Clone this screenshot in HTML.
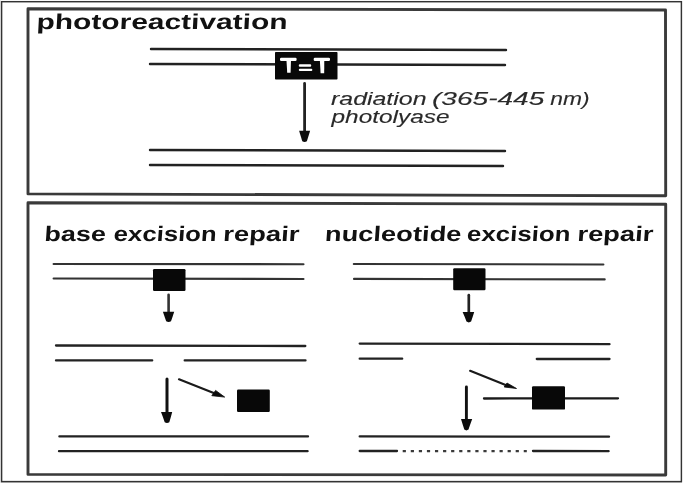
<!DOCTYPE html>
<html><head><meta charset="utf-8">
<style>
html,body{margin:0;padding:0;background:#fff;}
body{width:684px;height:483px;overflow:hidden;}
svg{display:block;filter:grayscale(1);}
.t{font-family:"Liberation Sans",sans-serif;}
</style></head>
<body>
<svg width="684" height="483" viewBox="0 0 684 483">
<rect x="0" y="0" width="684" height="483" fill="#fff"/>
<rect x="0" y="482" width="682" height="1" fill="#d6d6d6"/>
<rect x="0" y="0" width="1" height="483" fill="#ececec"/>
<rect x="1.6" y="1.7" width="679.8" height="479.9" fill="none" stroke="#333" stroke-width="1.45"/>
<path d="M28,8.7 L665.5,10 L665.7,195.8 L28,193.9 Z" fill="none" stroke="#3a3a3a" stroke-width="2.9" stroke-linejoin="round"/>
<path d="M28,202.8 L665.7,204.2 L665.7,475.0 L28,474.4 Z" fill="none" stroke="#3a3a3a" stroke-width="2.9" stroke-linejoin="round"/>
<g class="t" font-weight="bold" fill="#111">
<text transform="translate(36.2,28.8) skewX(-3)" font-size="21.5" textLength="251" lengthAdjust="spacingAndGlyphs">photoreactivation</text>
<text transform="translate(44,241.2) skewX(-4)" font-size="21" textLength="61.5" lengthAdjust="spacingAndGlyphs">base</text>
<text transform="translate(113.3,241.2) skewX(-4)" font-size="21" textLength="103" lengthAdjust="spacingAndGlyphs">excision</text>
<text transform="translate(222.8,241.2) skewX(-4)" font-size="21" textLength="76.2" lengthAdjust="spacingAndGlyphs">repair</text>
<text transform="translate(324.5,241.2) skewX(-4)" font-size="21" textLength="136.5" lengthAdjust="spacingAndGlyphs">nucleotide</text>
<text transform="translate(466.6,241.2) skewX(-4)" font-size="21" textLength="103.5" lengthAdjust="spacingAndGlyphs">excision</text>
<text transform="translate(577,241.2) skewX(-4)" font-size="21" textLength="76" lengthAdjust="spacingAndGlyphs">repair</text>
</g>
<line x1="151" y1="49" x2="506" y2="50" stroke="#222" stroke-width="2.4" stroke-linecap="round"/>
<line x1="150" y1="64" x2="505" y2="65" stroke="#222" stroke-width="2.4" stroke-linecap="round"/>
<line x1="150" y1="150" x2="505" y2="151" stroke="#222" stroke-width="2.4" stroke-linecap="round"/>
<line x1="150" y1="165" x2="503" y2="166" stroke="#222" stroke-width="2.4" stroke-linecap="round"/>
<rect x="275" y="52" width="62.5" height="27.5" rx="0.8" fill="#080808"/>
<g fill="#fff">
<rect x="280" y="57.8" width="16.6" height="3.2" rx="1.2"/>
<path d="M286.4,59 L291,59 L290.6,72.8 L287.2,72.8 Z"/>
<rect x="298.8" y="64.3" width="12.4" height="2.4" rx="1"/>
<rect x="298.8" y="68.7" width="13.5" height="2.4" rx="1"/>
<rect x="313.7" y="57.8" width="16.3" height="3.2" rx="1.2"/>
<path d="M319.8,59 L324.3,59 L324.2,73.2 L320.6,73.2 Z"/>
</g>
<line x1="304.6" y1="83.5" x2="304.6" y2="131.8" stroke="#222" stroke-width="2.8" stroke-linecap="round"/>
<path d="M299.1,130.8 L310.1,130.8 Q308.40000000000003,136.55 306.90000000000003,141.3 Q304.6,142.9 302.3,141.3 Q300.8,136.55 299.1,130.8 Z" fill="#0c0c0c"/>
<g class="t" font-size="18" font-style="italic" fill="#2a2a2a" stroke="#2a2a2a" stroke-width="0.12">
<text x="331" y="105" textLength="95.5" lengthAdjust="spacingAndGlyphs">radiation</text>
<text x="432" y="105" textLength="112.3" lengthAdjust="spacingAndGlyphs">(365-445</text>
<text x="550.2" y="105" textLength="39.3" lengthAdjust="spacingAndGlyphs">nm)</text>
<text x="331.5" y="123" textLength="118" lengthAdjust="spacingAndGlyphs">photolyase</text>
</g>
<line x1="53.6" y1="264" x2="303.5" y2="264.2" stroke="#333" stroke-width="2.1" stroke-linecap="round"/>
<line x1="53.6" y1="278.5" x2="303.5" y2="279" stroke="#333" stroke-width="2.1" stroke-linecap="round"/>
<line x1="56" y1="345.5" x2="305.3" y2="346" stroke="#222" stroke-width="2.3" stroke-linecap="round"/>
<line x1="56" y1="360.4" x2="152.2" y2="360.4" stroke="#222" stroke-width="2.3" stroke-linecap="round"/>
<line x1="184.7" y1="360.4" x2="305.5" y2="360.4" stroke="#222" stroke-width="2.3" stroke-linecap="round"/>
<line x1="59.4" y1="436.4" x2="308" y2="436.4" stroke="#222" stroke-width="2.3" stroke-linecap="round"/>
<line x1="59" y1="451.2" x2="307.6" y2="451.2" stroke="#222" stroke-width="2.3" stroke-linecap="round"/>
<rect x="153" y="269" width="32.5" height="22" rx="1.2" fill="#080808"/>
<rect x="237" y="389.6" width="32.8" height="22.4" rx="1.2" fill="#080808"/>
<line x1="168.6" y1="294.8" x2="168.6" y2="312.7" stroke="#333" stroke-width="2.6" stroke-linecap="round"/>
<path d="M162.9,311.7 L174.2,311.7 Q172.5,317.0 171.0,321.3 Q168.6,322.90000000000003 166.2,321.3 Q164.7,317.0 162.9,311.7 Z" fill="#0c0c0c"/>
<line x1="167" y1="379" x2="167" y2="413" stroke="#111" stroke-width="3.0" stroke-linecap="round"/>
<path d="M161,412 L172.2,412 Q170.8,417.6 169.3,422.2 Q167,423.8 164.7,422.2 Q163.2,417.6 161,412 Z" fill="#0c0c0c"/>
<line x1="179" y1="379.3" x2="213.7" y2="393.04999999999995" stroke="#1a1a1a" stroke-width="2.2" stroke-linecap="round"/>
<path d="M215.6,390.4 L211.8,395.7 L224.7,397.1 Z" fill="#0c0c0c" stroke="#0c0c0c" stroke-width="0.8" stroke-linejoin="round"/>
<line x1="353.8" y1="264" x2="603.4" y2="264.5" stroke="#333" stroke-width="2.1" stroke-linecap="round"/>
<line x1="354" y1="278.9" x2="604.7" y2="279.4" stroke="#333" stroke-width="2.1" stroke-linecap="round"/>
<line x1="359.7" y1="343.6" x2="609.5" y2="344.2" stroke="#222" stroke-width="2.3" stroke-linecap="round"/>
<line x1="359.7" y1="358.7" x2="402.2" y2="358.7" stroke="#222" stroke-width="2.3" stroke-linecap="round"/>
<line x1="536.8" y1="359" x2="609.5" y2="359" stroke="#222" stroke-width="2.3" stroke-linecap="round"/>
<line x1="484" y1="398.5" x2="618" y2="398.3" stroke="#1a1a1a" stroke-width="2.3" stroke-linecap="round"/>
<line x1="359.7" y1="436.4" x2="609" y2="436.7" stroke="#222" stroke-width="2.3" stroke-linecap="round"/>
<line x1="359.7" y1="451" x2="397" y2="451" stroke="#222" stroke-width="2.3" stroke-linecap="round"/>
<line x1="533" y1="451" x2="608.6" y2="451.2" stroke="#222" stroke-width="2.3" stroke-linecap="round"/>
<line x1="402.7" y1="451.1" x2="526.8" y2="451.1" stroke="#3a3a3a" stroke-width="2.4" stroke-dasharray="3.2 4.87"/>
<rect x="453.2" y="268.2" width="32.3" height="22.1" rx="1.2" fill="#080808"/>
<rect x="532" y="386.3" width="33" height="23.3" rx="1.2" fill="#080808"/>
<line x1="468.8" y1="295.2" x2="468.8" y2="313.1" stroke="#222" stroke-width="2.7" stroke-linecap="round"/>
<path d="M462.6,312.1 L474.2,312.1 Q472.6,317.35 471.1,321.6 Q468.8,323.20000000000005 466.5,321.6 Q465.0,317.35 462.6,312.1 Z" fill="#0c0c0c"/>
<line x1="466.4" y1="387" x2="466.4" y2="419.9" stroke="#111" stroke-width="2.9" stroke-linecap="round"/>
<path d="M461,418.9 L472.2,418.9 Q470.0,424.75 468.5,429.6 Q466.4,431.20000000000005 464.29999999999995,429.6 Q462.79999999999995,424.75 461,418.9 Z" fill="#0c0c0c"/>
<line x1="470.1" y1="370.8" x2="505.6" y2="385.0" stroke="#1a1a1a" stroke-width="2.2" stroke-linecap="round"/>
<path d="M507,383 L504.2,387 L516.5,388.5 Z" fill="#0c0c0c" stroke="#0c0c0c" stroke-width="0.8" stroke-linejoin="round"/>
</svg>
</body></html>
